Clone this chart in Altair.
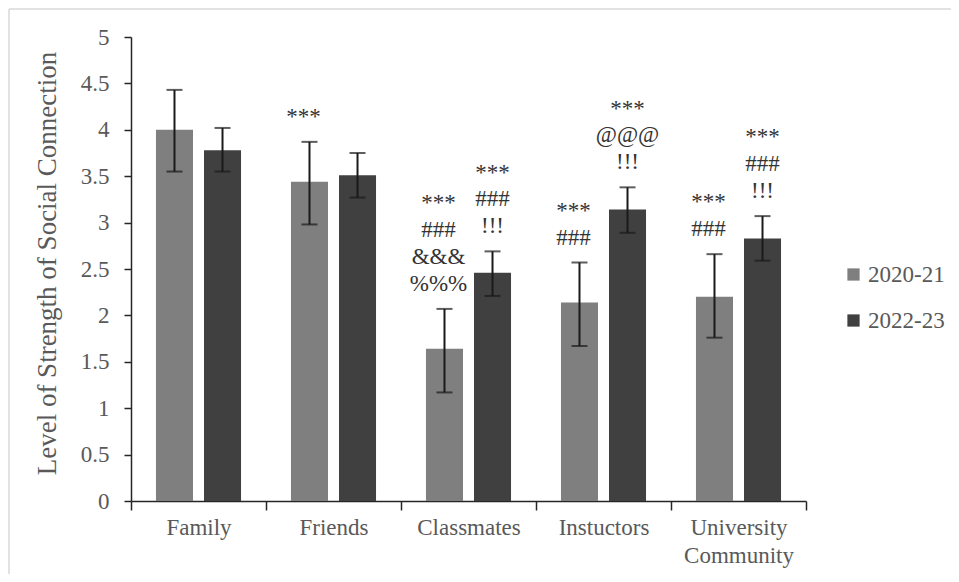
import altair as alt
import pandas as pd

categories = ["Family", "Friends", "Classmates", "Instuctors", "University Community"]
series = ["2020-21", "2022-23"]
mean_2020 = [4.00, 3.44, 1.64, 2.14, 2.20]
low_2020 = [3.55, 2.98, 1.17, 1.67, 1.76]
high_2020 = [4.43, 3.87, 2.07, 2.57, 2.66]
mean_2022 = [3.78, 3.51, 2.46, 3.14, 2.83]
low_2022 = [3.55, 3.27, 2.21, 2.89, 2.59]
high_2022 = [4.02, 3.75, 2.69, 3.38, 3.07]
notes_2020 = ["", "***", "***\n###\n&&&\n%%%", "***\n###", "***\n###"]
notes_2022 = ["", "", "***\n###\n!!!", "***\n@@@\n!!!", "***\n###\n!!!"]
y_ticks = [0, 0.5, 1, 1.5, 2, 2.5, 3, 3.5, 4, 4.5, 5]

rows = []
note_rows = []
for i, c in enumerate(categories):
    for s, m, lo, hi, nt in [
        (series[0], mean_2020[i], low_2020[i], high_2020[i], notes_2020[i]),
        (series[1], mean_2022[i], low_2022[i], high_2022[i], notes_2022[i]),
    ]:
        rows.append(dict(category=c, series=s, mean=m, low=lo, high=hi))
        if nt:
            lines = nt.split("\n")
            n = len(lines)
            for j, ln in enumerate(lines):
                note_rows.append(dict(category=c, series=s, high=hi, k=n - 1 - j, line=ln))
df = pd.DataFrame(rows)
notes_df = pd.DataFrame(note_rows)

FONT = "Liberation Serif"
TXT = "#595959"
LINE_STEP = 0.29  # one text line expressed in axis units

x_axis = alt.Axis(
    title=None, labelAngle=0, labelFont=FONT, labelFontSize=23, labelColor=TXT,
    labelPadding=6, labelLineHeight=28,
    labelExpr="datum.label == 'University Community' ? ['University', 'Community'] : datum.label",
    tickBand="extent", tickSize=9, tickWidth=1.5, tickColor="#262626",
    domainColor="#262626", domainWidth=1.5,
)
x_enc = alt.X("category:N", sort=categories,
              scale=alt.Scale(paddingInner=0, paddingOuter=0), axis=x_axis)
x_plain = alt.X("category:N", sort=categories)
xo_enc = alt.XOffset("series:N", sort=series,
                     scale=alt.Scale(paddingInner=0.229, paddingOuter=0.52))

base = alt.Chart(df)

bars = base.mark_bar().encode(
    x=x_enc,
    xOffset=xo_enc,
    y=alt.Y(
        "mean:Q", scale=alt.Scale(domain=[0, 5]),
        axis=alt.Axis(
            values=y_ticks, format="~g", grid=False,
            title="Level of Strength of Social Connection",
            titleFont=FONT, titleFontSize=27, titleFontWeight="normal", titleColor=TXT,
            titleX=-70, titleY=226,
            labelFont=FONT, labelFontSize=23, labelColor=TXT, labelPadding=15,
            tickSize=7, tickWidth=1.5, tickColor="#262626",
            domainColor="#262626", domainWidth=1.5,
        ),
    ),
    color=alt.Color(
        "series:N",
        scale=alt.Scale(domain=series, range=["#7f7f7f", "#404040"]),
        legend=alt.Legend(
            title=None, orient="none", legendX=711, legendY=226,
            symbolType="square", symbolSize=150, symbolStrokeWidth=0,
            labelFont=FONT, labelFontSize=23, labelColor=TXT,
            labelOffset=3, rowPadding=22,
        ),
    ),
)

err = base.mark_rule(color="#1a1a1a", strokeWidth=2).encode(
    x=x_plain, xOffset=xo_enc, y="low:Q", y2="high:Q"
)
cap_hi = base.mark_tick(color="#1a1a1a", size=16, thickness=2).encode(
    x=x_plain, xOffset=xo_enc, y="high:Q"
)
cap_lo = base.mark_tick(color="#1a1a1a", size=16, thickness=2).encode(
    x=x_plain, xOffset=xo_enc, y="low:Q"
)

def note_layer(s, dx):
    return alt.Chart(notes_df).transform_filter(alt.datum.series == s).transform_calculate(
        ypos=f"datum.high + datum.k * {LINE_STEP}"
    ).mark_text(
        baseline="bottom", align="center", dy=-13, dx=dx,
        font=FONT, fontSize=23, color="#333333",
    ).encode(
        x=x_plain, xOffset=xo_enc, y="ypos:Q", text="line:N"
    )

frame_df = pd.DataFrame({"k": [0]})
frame_top = alt.Chart(frame_df).mark_rule(color="#d9d9d9", strokeWidth=1.5).encode(
    x=alt.value(-122), x2=alt.value(830), y=alt.value(-28)
)
frame_left = alt.Chart(frame_df).mark_rule(color="#d9d9d9", strokeWidth=1.5).encode(
    x=alt.value(-122), y=alt.value(-28), y2=alt.value(540)
)

chart = alt.layer(
    frame_top, frame_left, bars, err, cap_hi, cap_lo,
    note_layer(series[0], -6), note_layer(series[1], 0),
).properties(
    width=675, height=464,
    autosize=alt.AutoSizeParams(type="none"),
    padding={"left": 123, "top": 29, "right": 145, "bottom": 73},
).configure_view(strokeWidth=0)

chart.save("out.html", embed_options={"renderer": "svg", "actions": False})
